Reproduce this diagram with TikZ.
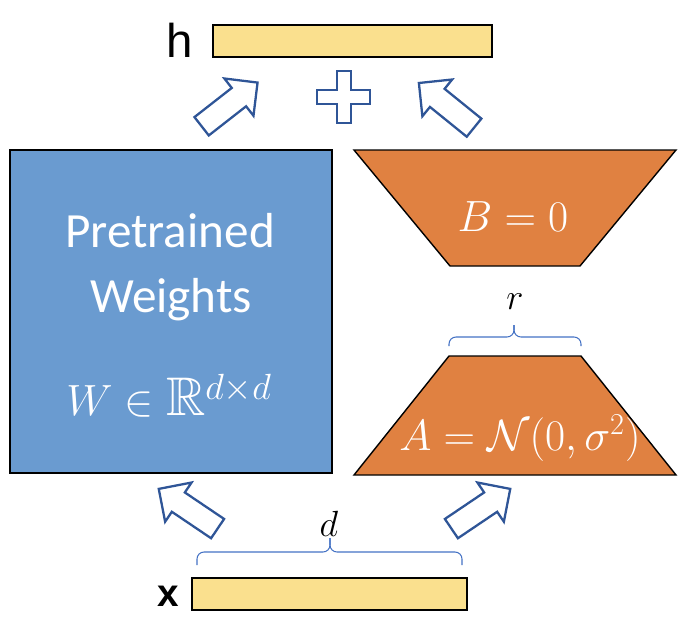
\documentclass[tikz,border=0pt]{standalone}
\usepackage{amsmath}
\usepackage{amssymb}
\usepackage{fontspec}
\setmainfont{Carlito}
\newfontfamily\labelfont{Liberation Sans}
\usetikzlibrary{shapes.arrows}
\definecolor{barfill}{RGB}{250,224,142}
\definecolor{weightblue}{RGB}{106,155,208}
\definecolor{loraorange}{RGB}{224,129,65}
\definecolor{arrowblue}{RGB}{47,85,151}
\definecolor{bracecol}{RGB}{68,114,196}

\begin{document}
\begin{tikzpicture}[x=0.02cm, y=-0.02cm,
	bar/.style={draw=black, fill=barfill, line width=1.2pt, minimum height=0.64cm, inner sep=0pt},
	blockarrow/.style={single arrow, draw=arrowblue, fill=white, line width=1.3pt, minimum height=1.42cm, inner xsep=0pt, inner ysep=0.21cm, single arrow head extend=0.24cm},
	lora/.style={draw=black, fill=loraorange, line width=0.8pt},
	brace/.style={draw=bracecol, line width=0.6pt, rounded corners=4pt},
	wtext/.style={text=white, font=\fontsize{28}{34}\selectfont, anchor=base},
	mtext/.style={text=white, font=\fontsize{24}{29}\selectfont},
	dimtext/.style={font=\fontsize{22}{26}\selectfont}]

	\useasboundingbox (0,0) rectangle (700,629);

	\node[bar, minimum width=5.58cm] (hbar) at (352.5,41) {};
	\node[bar, minimum width=5.5cm] (xbar) at (329.5,594) {};
	\node[font=\labelfont\fontsize{27}{30}\selectfont] (hlabel) at (180,40) {h};
	\node[font=\labelfont\bfseries\fontsize{22}{24}\selectfont] (xlabel) at (168,596) {x};

	\draw[arrowblue, fill=white, line width=1.3pt] (337,71) -- (351,71) -- (351,90) -- (370,90) -- (370,104) -- (351,104) -- (351,123) -- (337,123) -- (337,104) -- (317,104) -- (317,90) -- (337,90) -- cycle;

	\node[draw=black, fill=weightblue, line width=0.8pt, minimum width=6.44cm, minimum height=6.46cm] (weights) at (171,311.5) {};
	\node[wtext] (pre) at (170,247) {Pretrained};
	\node[wtext] (wts) at (171,312) {Weights};
	\node[wtext, font=\fontsize{31}{36}\selectfont] (wmath) at (169,415) {$W \in \mathbb{R}^{d\times d}$};

	\filldraw[lora] (354,150) -- (676,150) -- (580,266) -- (450,266) -- cycle;
	\node[mtext, font=\fontsize{25}{30}\selectfont] (bmat) at (513,217) {$B = 0$};
	\filldraw[lora] (449,356) -- (581,356) -- (676,475) -- (354,475) -- cycle;
	\node[mtext] (amat) at (520,438) {$A = \mathcal{N}(0,\sigma^2)$};

	\coordinate (rl) at (449,346);
	\coordinate (rr) at (581,346);
	\coordinate (rm) at (514,337);
	\coordinate (rtip) at (514,325);
	\draw[brace] (rl) |- (rm) -- (rtip);
	\draw[brace] (rr) |- (rm) -- (rtip);
	\node[dimtext] (rlabel) at (515,302) {$r$};

	\coordinate (dl) at (197,565);
	\coordinate (dr) at (462,565);
	\coordinate (dm) at (330,552);
	\coordinate (dtip) at (330,538);
	\draw[brace] (dl) |- (dm) -- (dtip);
	\draw[brace] (dr) |- (dm) -- (dtip);
	\node[dimtext] (dlabel) at (329,524) {$d$};

	\node[blockarrow, rotate=38] (wup) at (225,108) {};
	\node[blockarrow, rotate=141] (bup) at (451,109) {};
	\node[blockarrow, rotate=146] (xw) at (193,512) {};
	\node[blockarrow, rotate=34] (xa) at (476,512) {};

\end{tikzpicture}
\end{document}
